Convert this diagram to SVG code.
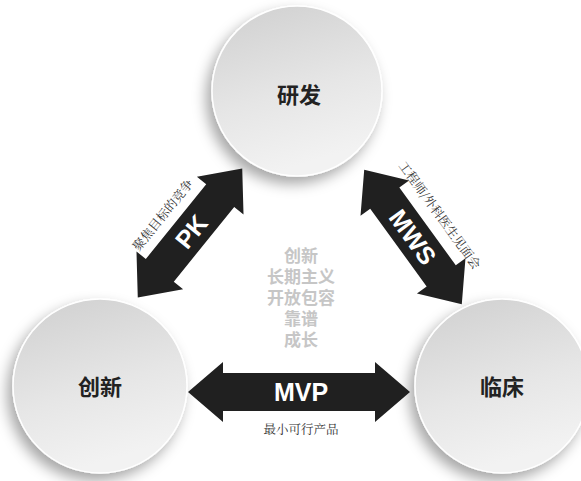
<svg xmlns="http://www.w3.org/2000/svg" width="581" height="481" viewBox="0 0 581 481">
<defs>
<linearGradient id="ball" x1="0" y1="0" x2="0.3" y2="1">
<stop offset="0" stop-color="#cfcfcf"/>
<stop offset="0.6" stop-color="#e6e6e6"/>
<stop offset="1" stop-color="#f2f2f2"/>
</linearGradient>
<filter id="shadow" x="-30%" y="-30%" width="160%" height="160%">
<feDropShadow dx="-5" dy="7" stdDeviation="7" flood-color="#000" flood-opacity="0.35"/>
</filter>
<style>
.ball{fill:url(#ball);stroke:#ffffff;stroke-width:1.5;filter:url(#shadow)}
.node{font-family:"Noto Sans CJK SC",sans-serif;font-weight:bold;font-size:22px;fill:#222;text-anchor:middle}
.arrow{fill:#202020}
.big{font-family:"Liberation Sans",Arial,sans-serif;font-weight:bold;fill:#fff;text-anchor:middle}
.lbl{font-family:"Noto Serif CJK SC","Noto Sans CJK SC",serif;font-size:12.5px;fill:#333;text-anchor:middle}
.mid{font-family:"Noto Sans CJK SC",sans-serif;font-weight:bold;font-size:17px;fill:#c6c6c6;text-anchor:middle}
</style>
</defs>
<rect width="581" height="481" fill="#ffffff"/>
<g id="node-yanfa">
<circle class="ball" cx="297" cy="91" r="85"/>
<text class="node" x="299" y="103">研发</text>
</g>
<g id="node-chuangxin">
<circle class="ball" cx="100" cy="386" r="87"/>
<text class="node" x="100" y="395">创新</text>
</g>
<g id="node-linchuang">
<circle class="ball" cx="502" cy="386" r="87"/>
<text class="node" x="502" y="395">临床</text>
</g>
<g id="connectors">
<g transform="translate(190,233) rotate(-51)">
<polygon class="arrow" points="-83,0 -48,-30 -48,-18 48,-18 48,-30 83,0 48,30 48,18 -48,18 -48,30"/>
<text class="big" x="2" y="9" font-size="25">PK</text>
<text class="lbl" x="-3" y="-28">聚焦目标的竞争</text>
</g>
<g transform="translate(413,237) rotate(54)">
<polygon class="arrow" points="-83,0 -48,-30 -48,-18 48,-18 48,-30 83,0 48,30 48,18 -48,18 -48,30"/>
<text class="big" x="0" y="9" font-size="25">MWS</text>
<text class="lbl" x="-2" y="-30">工程师/外科医生见面会</text>
</g>
<g transform="translate(299,392)">
<polygon class="arrow" points="-111,0 -76,-30 -76,-19 76,-19 76,-30 111,0 76,30 76,19 -76,19 -76,30"/>
<text class="big" x="2" y="9" font-size="25">MVP</text>
<text class="lbl" x="2" y="42">最小可行产品</text>
</g>
</g>
<g id="values">
<text class="mid" x="301" y="262">创新</text>
<text class="mid" x="301" y="283">长期主义</text>
<text class="mid" x="301" y="304">开放包容</text>
<text class="mid" x="301" y="325">靠谱</text>
<text class="mid" x="301" y="346">成长</text>
</g>
</svg>
